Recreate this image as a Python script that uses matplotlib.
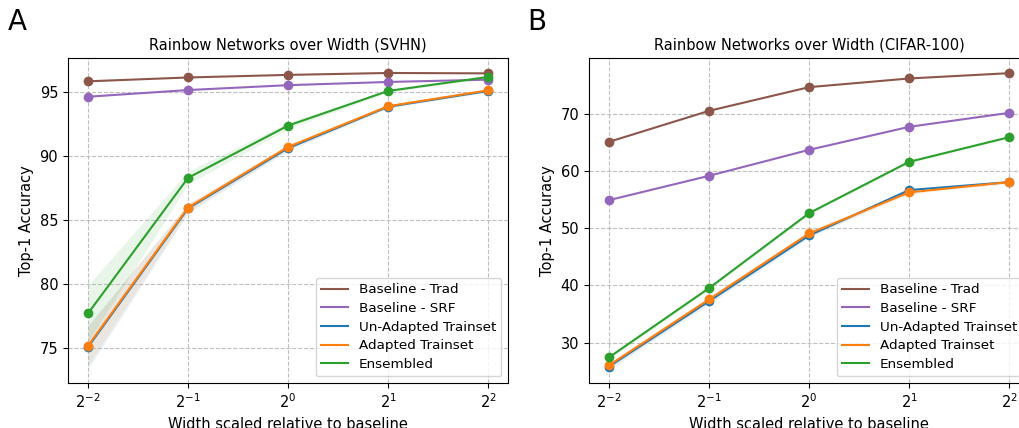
import matplotlib
matplotlib.use("Agg")
import matplotlib.pyplot as plt
import numpy as np

# width multipliers (log2 axis)
widths = [0.25, 0.5, 1, 2, 4]
tick_labels = ["$2^{-2}$", "$2^{-1}$", "$2^{0}$", "$2^{1}$", "$2^{2}$"]

labels = ["Baseline - Trad", "Baseline - SRF", "Un-Adapted Trainset", "Adapted Trainset", "Ensembled"]
colors = ["tab:brown", "tab:purple", "tab:blue", "tab:orange", "tab:green"]

# SVHN
svhn_trad = [95.8, 96.1, 96.3, 96.45, 96.42]
svhn_srf = [94.6, 95.12, 95.5, 95.75, 95.93]
svhn_unadapted = [75.1, 85.9, 90.6, 93.82, 95.05]
svhn_adapted = [75.2, 85.97, 90.69, 93.86, 95.1]
svhn_ensembled = [77.72, 88.28, 92.35, 95.05, 96.14]
svhn_std_unadapted = [1.7, 0.35, 0.2, 0.1, 0.1]
svhn_std_adapted = [1.5, 0.3, 0.2, 0.1, 0.1]
svhn_std_ensembled = [2.2, 0.5, 0.25, 0.1, 0.1]

# CIFAR-100
cifar_trad = [65.15, 70.58, 74.73, 76.25, 77.18]
cifar_srf = [54.94, 59.2, 63.75, 67.78, 70.23]
cifar_unadapted = [25.8, 37.25, 48.75, 56.7, 58.1]
cifar_adapted = [26.0, 37.55, 49.1, 56.3, 58.1]
cifar_ensembled = [27.4, 39.53, 52.66, 61.65, 65.97]
cifar_std_unadapted = [0.5, 0.5, 0.4, 0.3, 0.2]
cifar_std_adapted = [0.5, 0.5, 0.4, 0.3, 0.2]
cifar_std_ensembled = [0.3, 0.3, 0.3, 0.2, 0.2]

fig = plt.figure(figsize=(10.19, 4.28), dpi=100)
ax1 = fig.add_axes([0.0667, 0.105, 0.432, 0.759])
ax2 = fig.add_axes([0.578, 0.105, 0.432, 0.759])


def draw(ax, series, stds, title, ylim, yticks):
    for i, (vals, lab, col) in enumerate(zip(series, labels, colors)):
        ax.plot(widths, vals, color=col, label=lab)
        ax.plot(widths, vals, "o", color=col, markersize=6)
        if stds[i] is not None:
            v = np.array(vals)
            s = np.array(stds[i])
            ax.fill_between(widths, v - s, v + s, color=col, alpha=0.1, linewidth=0)
    ax.set_xscale("log", base=2)
    ax.set_xticks(widths)
    ax.set_xticklabels(tick_labels)
    ax.minorticks_off()
    ax.set_ylim(*ylim)
    ax.set_yticks(yticks)
    ax.grid(True, linestyle="--", color="#b0b0b0", alpha=0.8)
    ax.set_title(title, fontsize=10.5)
    ax.set_xlabel("Width scaled relative to baseline", fontsize=10.5)
    ax.set_ylabel("Top-1 Accuracy", fontsize=10.5)
    ax.tick_params(labelsize=10.5)
    ax.legend(loc="lower right", fontsize=9.7, labelspacing=0.42)


draw(ax1, [svhn_trad, svhn_srf, svhn_unadapted, svhn_adapted, svhn_ensembled],
     [None, None, svhn_std_unadapted, svhn_std_adapted, svhn_std_ensembled],
     "Rainbow Networks over Width (SVHN)", (72.3, 97.6), [75, 80, 85, 90, 95])
draw(ax2, [cifar_trad, cifar_srf, cifar_unadapted, cifar_adapted, cifar_ensembled],
     [None, None, cifar_std_unadapted, cifar_std_adapted, cifar_std_ensembled],
     "Rainbow Networks over Width (CIFAR-100)", (22.9, 79.8), [30, 40, 50, 60, 70])

fig.text(0.008, 0.93, "A", fontsize=20)
fig.text(0.517, 0.93, "B", fontsize=20)

fig.savefig("out.png", dpi=100)
